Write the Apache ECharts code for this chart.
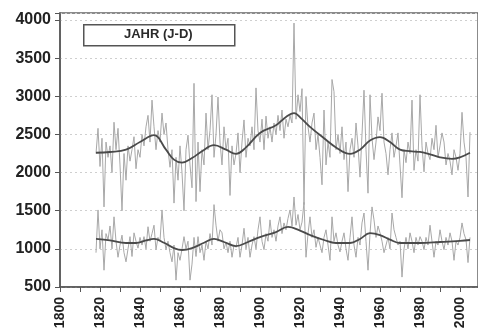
<!DOCTYPE html>
<html>
<head>
<meta charset="utf-8">
<script src="https://cdn.jsdelivr.net/npm/echarts@6/dist/echarts.min.js"></script>
<style>
	html, body { margin: 0; padding: 0; background: #fff; }
	#main { width: 478px; height: 332px; }
</style>
</head>
<body>
<div id="main"></div>
<script>
	// Jahreswerte 1818 - 2005
	var startYear = 1818;
	var upperValues = [
		2250, 2580, 2080, 2450, 1550, 2400, 2200, 2350, 2000, 2660,
		2300, 2580, 2100, 1500, 2250, 1900, 2350, 2150, 2300, 2470,
		2050, 2300, 2200, 2500, 2350, 2600, 2750, 2400, 2950, 2600,
		2300, 2550, 2400, 2780, 2500, 2650, 2300, 2070, 2300, 1600,
		2200, 1900, 2350, 2000, 1500, 2300, 2490, 2100, 1800, 3170,
		1620, 2400, 1750, 2300, 2100, 2780, 2300, 2550, 3020, 2200,
		2500, 2990, 2400, 2100, 2600, 2300, 2450, 1700, 2350, 2100,
		2250, 2520, 2000, 2400, 2690, 2200, 2450, 2350, 2600, 2300,
		3110, 2550, 2400, 2700, 2300, 2740, 2450, 2600, 2400, 2650,
		2500, 2750, 2550, 2820, 2450, 2700, 2600, 2750, 2650, 3960,
		2700, 3020, 2800, 3100, 1580, 2990, 2600, 2400, 2650, 2780,
		2300, 2500, 2200, 1840, 2820, 2100, 2400, 2200, 3220, 3060,
		2300, 2500, 2250, 2600, 2170, 2400, 1750, 2300, 2450, 2200,
		2650, 2350, 1940, 2500, 3080, 2300, 1730, 3020, 2450, 2170,
		2400, 2730, 2550, 3040, 2400, 2250, 1970, 2300, 2520, 2200,
		2350, 2520, 2100, 1670, 2300, 2130, 2400, 2250, 2950, 2030,
		2300, 2150, 3020, 2350, 2010, 2400, 2250, 2170, 2450, 2300,
		2620, 2200, 2350, 2520, 2400, 2100, 2250, 2150, 1970, 2300,
		2200, 2030, 2250, 2790, 2400, 2200, 1680, 2530
	];
	var lowerValues = [
		950, 1510, 1000, 1250, 720, 1200, 1120, 1300, 1000, 1420,
		1100, 890, 1050, 1180, 950, 830, 1000, 1160, 900, 1210,
		1100, 1010, 1150, 1050, 1160, 1000, 1290, 1100, 1200, 1310,
		990, 1150, 1100, 1510, 1150, 990, 1100, 950, 830, 1050,
		590, 950, 850, 1000, 1160, 1000, 1100, 590, 800, 1150,
		900, 1160, 950, 1050, 850, 1100, 1000, 1200, 1050, 1580,
		1310, 1100, 1250, 1210, 1000, 1090, 950, 1100, 890, 1050,
		1020, 1150, 890, 1050, 1270, 1000, 1150, 890, 1050, 1160,
		1000, 1250, 1420, 1100, 990, 1200, 1100, 1380, 1150, 1250,
		1100, 1300, 1420, 1200, 1340, 1250, 1400, 1510, 1300, 1680,
		1310, 1450, 1250, 1350, 1610, 890, 1200, 1420, 1150, 1250,
		1020, 1150, 1050, 950, 1150, 1250, 1050, 850, 1420, 1100,
		1210, 1050, 960, 1100, 1210, 1000, 850, 1150, 1420, 1050,
		890, 1150, 1050, 1340, 1470, 1100, 720, 1200, 1550, 1380,
		1150, 1300, 1210, 1100, 950, 1050, 1150, 1000, 1470, 1250,
		1150, 1050, 1100, 630, 1000, 1150, 1000, 1210, 1100, 950,
		1150, 1050, 1160, 1100, 990, 1150, 1050, 1310, 1100, 890,
		1100, 1050, 1250, 1100, 990, 1150, 1050, 1210, 1100, 850,
		1100, 1050, 1150, 1340, 1200, 1120, 820, 1150
	];

	// geglaettete Kurven
	var upperSmoothYears = [1818, 1825, 1833, 1840, 1847, 1853, 1857, 1861, 1866, 1871, 1877, 1883, 1888, 1893, 1900, 1908, 1913, 1917, 1921, 1925, 1932, 1938, 1945, 1950, 1955, 1960, 1965, 1970, 1975, 1980, 1985, 1990, 1996, 2000, 2005];
	var upperSmooth = [2260, 2270, 2300, 2400, 2490, 2300, 2170, 2130, 2190, 2280, 2360, 2300, 2245, 2330, 2520, 2620, 2730, 2780, 2700, 2600, 2450, 2330, 2245, 2300, 2420, 2465, 2400, 2300, 2280, 2270, 2240, 2200, 2180, 2200, 2260];
	var lowerSmoothYears = [1818, 1825, 1833, 1838, 1843, 1847, 1852, 1857, 1861, 1866, 1872, 1877, 1882, 1888, 1894, 1900, 1908, 1914, 1920, 1925, 1932, 1938, 1945, 1950, 1955, 1960, 1965, 1970, 1980, 1990, 2000, 2005];
	var lowerSmooth = [1130, 1110, 1077, 1077, 1110, 1130, 1080, 1010, 985, 1010, 1080, 1130, 1090, 1037, 1090, 1155, 1220, 1287, 1240, 1182, 1116, 1077, 1077, 1130, 1205, 1180, 1120, 1077, 1077, 1090, 1105, 1116];

	var yTicks = [500, 1000, 1500, 2000, 2500, 3000, 3500, 4000];
	var xLabelStep = 20;

	function pairs(years, vals) {
		return vals.map(function (v, i) { return [years[i], v]; });
	}
	function yearly(vals) {
		return vals.map(function (v, i) { return [startYear + i, v]; });
	}

	var myChart = echarts.init(document.getElementById('main'));
	var option = {
		animation: false,
		backgroundColor: '#fff',
		grid: {
			left: 60, right: -1, top: 13, bottom: 45,
			show: true, borderColor: '#666', borderWidth: 1.5, backgroundColor: 'transparent'
		},
		xAxis: {
			type: 'value',
			min: 1800, max: 2009, interval: 10,
			axisLine: { lineStyle: { color: '#555', width: 1.5 } },
			axisTick: { length: 5, lineStyle: { color: '#555' } },
			axisLabel: {
				rotate: 90, fontSize: 14, fontWeight: 'bold', color: '#222',
				fontFamily: 'Liberation Sans, Arial, sans-serif', margin: 10,
				formatter: function (v) { return v % xLabelStep === 0 ? String(v) : ''; }
			},
			splitLine: { show: false }
		},
		yAxis: {
			type: 'value',
			min: 500, max: 4092, interval: 500,
			axisLine: { show: true, lineStyle: { color: '#555', width: 1.5 } },
			axisTick: { show: true, length: 5, lineStyle: { color: '#555' } },
			axisLabel: {
				fontSize: 16, fontWeight: 'bold', color: '#222',
				fontFamily: 'Liberation Sans, Arial, sans-serif', margin: 9,
				formatter: function (v) { return yTicks.indexOf(v) >= 0 ? String(v) : ''; }
			},
			splitLine: { lineStyle: { color: '#cfcfcf', type: [2, 3], width: 1 } }
		},
		series: [
			{ type: 'line', data: yearly(upperValues), symbol: 'none', lineStyle: { color: '#a8a8a8', width: 1 }, z: 2 },
			{ type: 'line', data: yearly(lowerValues), symbol: 'none', lineStyle: { color: '#a8a8a8', width: 1 }, z: 2 },
			{ type: 'line', data: pairs(upperSmoothYears, upperSmooth), symbol: 'none', smooth: 0.4, lineStyle: { color: '#4a4a4a', width: 1.8 }, z: 3 },
			{ type: 'line', data: pairs(lowerSmoothYears, lowerSmooth), symbol: 'none', smooth: 0.4, lineStyle: { color: '#4a4a4a', width: 1.8 }, z: 3 }
		],
		graphic: [
			{
				type: 'rect', left: 83, top: 24, z: 10,
				shape: { width: 151, height: 21 },
				style: { fill: '#fff', stroke: '#555', lineWidth: 1.5 }
			},
			{
				type: 'text', left: 124, top: 28, z: 11,
				style: { text: 'JAHR (J-D)', fontSize: 13, fontWeight: 'bold', fill: '#2a2a2a', fontFamily: 'Liberation Sans, Arial, sans-serif' }
			}
		]
	};
	myChart.setOption(option);
</script>
</body>
</html>
